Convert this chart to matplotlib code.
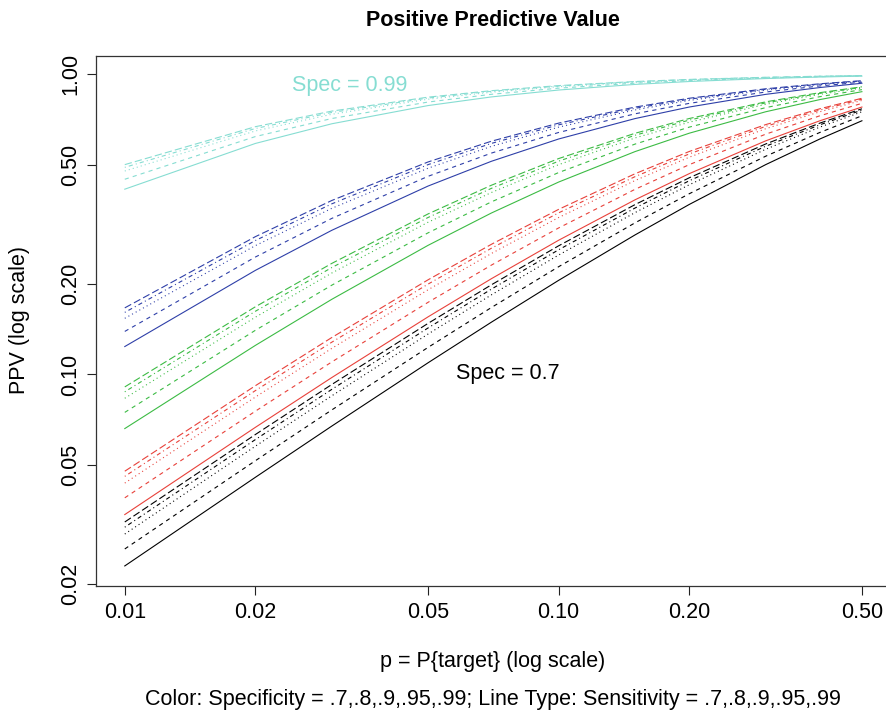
import matplotlib
matplotlib.use("Agg")
import matplotlib.pyplot as plt
from matplotlib.ticker import FixedLocator, NullLocator, FixedFormatter

plt.rcParams['font.family'] = ['Liberation Sans', 'DejaVu Sans']
plt.rcParams['lines.scale_dashes'] = False

# Prevalence grid p = P{target}
p_values = [0.01, 0.02, 0.03, 0.05, 0.07, 0.10, 0.15, 0.20, 0.30, 0.40, 0.50]

specificities = [0.7, 0.8, 0.9, 0.95, 0.99]
sensitivities = [0.7, 0.8, 0.9, 0.95, 0.99]

# PPV curves, one list per sensitivity, grouped by specificity
ppv_spec_070 = [
    [0.02303, 0.04545, 0.06731, 0.10938, 0.14939, 0.20588, 0.29167, 0.36842, 0.50000, 0.60870, 0.70000],
    [0.02623, 0.05161, 0.07619, 0.12308, 0.16716, 0.22857, 0.32000, 0.40000, 0.53333, 0.64000, 0.72727],
    [0.02941, 0.05769, 0.08491, 0.13636, 0.18421, 0.25000, 0.34615, 0.42857, 0.56250, 0.66667, 0.75000],
    [0.03100, 0.06070, 0.08920, 0.14286, 0.19248, 0.26027, 0.35849, 0.44186, 0.57576, 0.67857, 0.76000],
    [0.03226, 0.06310, 0.09261, 0.14798, 0.19897, 0.26829, 0.36803, 0.45205, 0.58580, 0.68750, 0.76744],
]
ppv_spec_080 = [
    [0.03415, 0.06667, 0.09767, 0.15556, 0.20851, 0.28000, 0.38182, 0.46667, 0.60000, 0.70000, 0.77778],
    [0.03883, 0.07547, 0.11009, 0.17391, 0.23140, 0.30769, 0.41379, 0.50000, 0.63158, 0.72727, 0.80000],
    [0.04348, 0.08411, 0.12217, 0.19149, 0.25301, 0.33333, 0.44262, 0.52941, 0.65854, 0.75000, 0.81818],
    [0.04578, 0.08837, 0.12809, 0.20000, 0.26337, 0.34545, 0.45600, 0.54286, 0.67059, 0.76000, 0.82609],
    [0.04762, 0.09175, 0.13277, 0.20668, 0.27145, 0.35484, 0.46625, 0.55307, 0.67963, 0.76744, 0.83193],
]
ppv_spec_090 = [
    [0.06604, 0.12500, 0.17797, 0.26923, 0.34507, 0.43750, 0.55263, 0.63636, 0.75000, 0.82353, 0.87500],
    [0.07477, 0.14035, 0.19835, 0.29630, 0.37584, 0.47059, 0.58537, 0.66667, 0.77419, 0.84211, 0.88889],
    [0.08333, 0.15517, 0.21774, 0.32143, 0.40385, 0.50000, 0.61364, 0.69231, 0.79412, 0.85714, 0.90000],
    [0.08756, 0.16239, 0.22709, 0.33333, 0.41693, 0.51351, 0.62637, 0.70370, 0.80282, 0.86364, 0.90476],
    [0.09091, 0.16808, 0.23441, 0.34256, 0.42699, 0.52381, 0.63597, 0.71223, 0.80927, 0.86842, 0.90826],
]
ppv_spec_095 = [
    [0.12389, 0.22222, 0.30216, 0.42424, 0.51309, 0.60870, 0.71186, 0.77778, 0.85714, 0.90323, 0.93333],
    [0.13913, 0.24615, 0.33103, 0.45714, 0.54634, 0.64000, 0.73846, 0.80000, 0.87273, 0.91429, 0.94118],
    [0.15385, 0.26866, 0.35762, 0.48649, 0.57534, 0.66667, 0.76056, 0.81818, 0.88525, 0.92308, 0.94737],
    [0.16102, 0.27941, 0.37013, 0.50000, 0.58850, 0.67857, 0.77027, 0.82609, 0.89063, 0.92683, 0.95000],
    [0.16667, 0.28779, 0.37979, 0.51031, 0.59844, 0.68750, 0.77749, 0.83193, 0.89458, 0.92958, 0.95192],
]
ppv_spec_099 = [
    [0.41420, 0.58824, 0.68404, 0.78652, 0.84048, 0.88608, 0.92511, 0.94595, 0.96774, 0.97902, 0.98592],
    [0.44693, 0.62016, 0.71217, 0.80808, 0.85758, 0.89888, 0.93385, 0.95238, 0.97166, 0.98160, 0.98765],
    [0.47619, 0.64748, 0.73570, 0.82569, 0.87137, 0.90909, 0.94077, 0.95745, 0.97473, 0.98361, 0.98901],
    [0.48969, 0.65972, 0.74607, 0.83333, 0.87731, 0.91346, 0.94371, 0.95960, 0.97603, 0.98446, 0.98958],
    [0.50000, 0.66892, 0.75381, 0.83898, 0.88168, 0.91667, 0.94586, 0.96117, 0.97697, 0.98507, 0.99000],
]
ppv_by_spec = [ppv_spec_070, ppv_spec_080, ppv_spec_090, ppv_spec_095, ppv_spec_099]

x_ticks = [0.01, 0.02, 0.05, 0.10, 0.20, 0.50]
x_tick_labels = ["0.01", "0.02", "0.05", "0.10", "0.20", "0.50"]
y_ticks = [0.02, 0.05, 0.10, 0.20, 0.50, 1.00]
y_tick_labels = ["0.02", "0.05", "0.10", "0.20", "0.50", "1.00"]

spec_colors = ["#000000", "#E8413A", "#3CBB44", "#2E3FA8", "#86DDD2"]
sens_dashes = [
    (None, None),
    (3.0, 3.0),
    (0.75, 2.25),
    (0.75, 2.25, 3.0, 2.25),
    (5.25, 2.25),
]

FS = 15.5
W, H = 886, 714
fig = plt.figure(figsize=(W / 100, H / 100), dpi=100)

# plot region in pixels (the right edge runs slightly past the canvas)
left_px, right_px, top_px, bottom_px = 95.7, 891.5, 55.7, 585.7
ax = fig.add_axes([left_px / W, 1 - bottom_px / H,
                   (right_px - left_px) / W, (bottom_px - top_px) / H])
ax.set_xscale("log")
ax.set_yscale("log")
ax.set_xlim(0.00857, 0.585)
ax.set_ylim(0.01979, 1.153)

for color, curves in zip(spec_colors, ppv_by_spec):
    for dash, ppv in zip(sens_dashes, curves):
        line, = ax.plot(p_values, ppv, color=color, lw=0.8)
        if dash[0] is not None:
            line.set_dashes(dash)

ax.xaxis.set_major_locator(FixedLocator(x_ticks))
ax.xaxis.set_major_formatter(FixedFormatter(x_tick_labels))
ax.xaxis.set_minor_locator(NullLocator())
ax.yaxis.set_major_locator(FixedLocator(y_ticks))
ax.yaxis.set_major_formatter(FixedFormatter(y_tick_labels))
ax.yaxis.set_minor_locator(NullLocator())
ax.tick_params(axis="both", direction="out", length=6.5, width=0.8,
               labelsize=FS, color="#222222")
ax.tick_params(axis="x", pad=5)
ax.tick_params(axis="y", pad=4)
for lab in ax.get_yticklabels():
    lab.set_rotation(90)
    lab.set_va("center")
for side in ["left", "bottom", "top"]:
    ax.spines[side].set_linewidth(0.9)
    ax.spines[side].set_color("#333333")
ax.spines["right"].set_visible(False)

ax.text(0.033, 0.92, "Spec = 0.99", color=spec_colors[4], fontsize=FS,
        ha="center", va="center")
ax.text(0.0764, 0.101, "Spec = 0.7", color="black", fontsize=FS,
        ha="center", va="center")

fig.text(493 / W, 1 - 20 / H, "Positive Predictive Value", ha="center",
         va="center", fontsize=FS, fontweight="bold")
fig.text(20 / W, 1 - 320 / H, "PPV (log scale)", ha="center", va="center",
         rotation=90, fontsize=FS)
fig.text(493 / W, 1 - 662 / H, "p = P{target} (log scale)", ha="center",
         va="center", fontsize=FS)
fig.text(493 / W, 1 - 700 / H,
         "Color: Specificity = .7,.8,.9,.95,.99; Line Type: Sensitivity = .7,.8,.9,.95,.99",
         ha="center", va="center", fontsize=FS)

fig.savefig("out.png", dpi=100)
